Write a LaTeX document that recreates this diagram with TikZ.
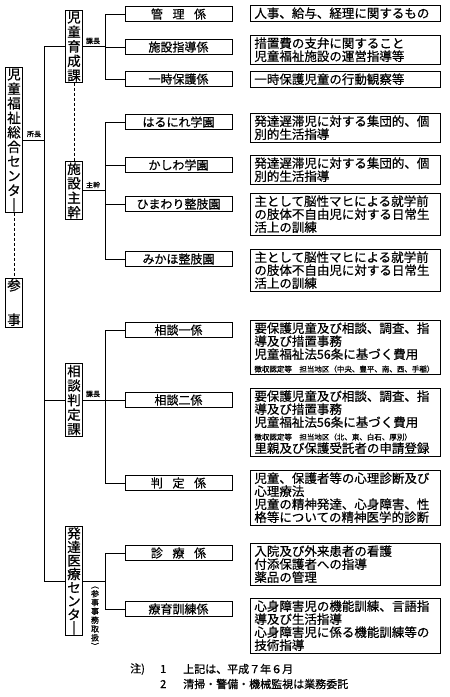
\documentclass[tikz,border=0pt]{standalone}
\usepackage{fontspec}
\setmainfont{Noto Sans CJK JP}[FakeBold=0.6]
\usepackage{tikz}
\tikzset{
  ka_box/.style={draw, line width=0.8pt, align=center, inner xsep=2pt, inner ysep=1pt, font=\fontsize{13.5}{14.5}\selectfont},
  kakari_box/.style={draw, line width=0.8pt, minimum width=107pt, minimum height=15pt, inner sep=0pt, font=\fontsize{12}{12}\selectfont},
  gyomu_box/.style={draw, line width=0.8pt, anchor=north west, text width=182pt, align=left, inner xsep=4pt, inner ysep=2pt, font=\fontsize{12.5}{13}\selectfont},
  small_label/.style={inner sep=0pt, font=\fontsize{7}{7}\selectfont},
  note/.style={anchor=west, inner sep=0pt, font=\fontsize{11}{11}\selectfont},
  edge/.style={line width=0.8pt},
  dashed_edge/.style={line width=0.8pt, dash pattern=on 3pt off 2pt}
}
\newcommand{\smallline}[1]{{\fontsize{7.5}{9}\selectfont #1}}

\begin{document}
\begin{tikzpicture}[x=1pt, y=-1pt]
        \useasboundingbox (0,0) rectangle (450,697);
        % left column
        \node[ka_box] (0) at (14,140) {児\\童\\福\\祉\\総\\合\\セ\\ン\\タ\\｜};
        \node[ka_box] (1) at (14,302.5) {参\\[20pt]事};
        \node[ka_box] (2) at (74,46.5) {児\\童\\育\\成\\課};
        \node[ka_box] (3) at (74,190.5) {施\\設\\主\\幹};
        \node[ka_box] (4) at (74,400) {相\\談\\判\\定\\課};
        \node[ka_box, font=\fontsize{13.5}{13.5}\selectfont] (5) at (74,581) {発\\達\\医\\療\\セ\\ン\\タ\\｜};
        % sections
        \node[kakari_box] (10) at (178.5,14) {管\hspace{0.8em}理\hspace{0.8em}係};
        \node[kakari_box] (11) at (178.5,47) {施設指導係};
        \node[kakari_box] (12) at (178.5,79) {一時保護係};
        \node[kakari_box] (13) at (178.5,122) {はるにれ学園};
        \node[kakari_box] (14) at (178.5,165) {かしわ学園};
        \node[kakari_box] (15) at (178.5,204) {ひまわり整肢園};
        \node[kakari_box] (16) at (178.5,259) {みかほ整肢園};
        \node[kakari_box] (17) at (178.5,330) {相談一係};
        \node[kakari_box] (18) at (178.5,400) {相談二係};
        \node[kakari_box] (19) at (178.5,483) {判\hspace{0.8em}定\hspace{0.8em}係};
        \node[kakari_box] (20) at (178.5,553) {診\hspace{0.8em}療\hspace{0.8em}係};
        \node[kakari_box] (21) at (178.5,609) {療育訓練係};
        % duties
        \node[gyomu_box] (30) at (250,5) {人事、給与、経理に関するもの};
        \node[gyomu_box] (31) at (250,35) {措置費の支弁に関すること\\児童福祉施設の運営指導等};
        \node[gyomu_box] (32) at (250,71) {一時保護児童の行動観察等};
        \node[gyomu_box] (33) at (250,113) {発達遅滞児に対する集団的、個\\別的生活指導};
        \node[gyomu_box] (34) at (250,155) {発達遅滞児に対する集団的、個\\別的生活指導};
        \node[gyomu_box] (35) at (250,193) {主として脳性マヒによる就学前\\の肢体不自由児に対する日常生\\活上の訓練};
        \node[gyomu_box] (36) at (250,249) {主として脳性マヒによる就学前\\の肢体不自由児に対する日常生\\活上の訓練};
        \node[gyomu_box] (37) at (250,320) {要保護児童及び相談、調査、指\\導及び措置事務\\児童福祉法56条に基づく費用\\\smallline{徴収認定等　担当地区（中央、豊平、南、西、手稲）}};
        \node[gyomu_box] (38) at (250,388) {要保護児童及び相談、調査、指\\導及び措置事務\\児童福祉法56条に基づく費用\\\smallline{徴収認定等　担当地区（北、東、白石、厚別）}\\里親及び保護受託者の申請登録};
        \node[gyomu_box] (39) at (250,470) {児童、保護者等の心理診断及び\\心理療法\\児童の精神発達、心身障害、性\\格等についての精神医学的診断};
        \node[gyomu_box] (40) at (250,543) {入院及び外来患者の看護\\付添保護者への指導\\薬品の管理};
        \node[gyomu_box] (41) at (250,598) {心身障害児の機能訓練、言語指\\導及び生活指導\\心身障害児に係る機能訓練等の\\技術指導};
        % trunk and brackets
        \coordinate (50) at (44,0);
        \coordinate (51) at (105,0);
        \draw[edge] (2.west -| 50) -- (5.west -| 50);
        \draw[edge] (0) -- (0 -| 50);
        \draw[edge] (2) -- (2 -| 50);
        \draw[edge] (4) -- (4 -| 50);
        \draw[edge] (5) -- (5 -| 50);
        \draw[dashed_edge] (0) -- (1);
        \draw[dashed_edge] (2) -- (3);
        \draw[edge] (2) -- (2 -| 51);
        \draw[edge] (10) -- (10 -| 51) -- (12 -| 51) -- (12);
        \draw[edge] (11) -- (11 -| 51);
        \draw[edge] (3) -- (3 -| 51);
        \draw[edge] (13) -- (13 -| 51) -- (16 -| 51) -- (16);
        \draw[edge] (14) -- (14 -| 51);
        \draw[edge] (15) -- (15 -| 51);
        \draw[edge] (4) -- (4 -| 51);
        \draw[edge] (17) -- (17 -| 51) -- (19 -| 51) -- (19);
        \draw[edge] (18) -- (18 -| 51);
        \draw[edge] (5) -- (5 -| 51);
        \draw[edge] (20) -- (20 -| 51) -- (21 -| 51) -- (21);
        % small labels
        \node[small_label] (60) at (34,134) {所長};
        \node[small_label] (61) at (93,41) {課長};
        \node[small_label] (62) at (93,185) {主幹};
        \node[small_label] (63) at (93,394) {課長};
        \node[small_label, align=center, font=\fontsize{8}{8.8}\selectfont] (64) at (95,618) {︵\\参\\事\\事\\務\\取\\扱\\︶};
        % notes
        \node[note] (70) at (130,669) {注)};
        \node[note] (71) at (160,669) {1};
        \node[note] (72) at (183,669) {上記は、平成７年６月};
        \node[note] (73) at (160,684) {2};
        \node[note] (74) at (183,684) {清掃・警備・機械監視は業務委託};
\end{tikzpicture}
\end{document}
